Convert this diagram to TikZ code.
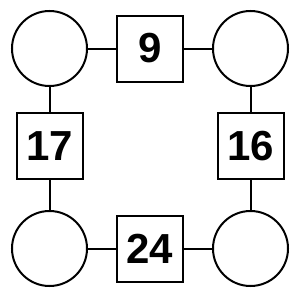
\documentclass[tikz,border=0pt]{standalone}
\usepackage{fontspec}
\setmainfont{Liberation Sans}
\begin{document}
\begin{tikzpicture}[x=1pt,y=-1pt,
  circ/.style={draw,line width=2pt,circle,minimum size=75pt,inner sep=0pt},
  sq/.style={draw,line width=2pt,rectangle,minimum size=66pt,inner sep=0pt,font=\fontsize{42}{42}\selectfont\bfseries},
  conn/.style={line width=2pt}]
\useasboundingbox (0,0) rectangle (300,300);
\node[circ] (c1) at (49.5,48.5) {};
\node[circ] (c2) at (250.5,48.5) {};
\node[circ] (c3) at (49.5,248.5) {};
\node[circ] (c4) at (250.5,248.5) {};
\node[sq] (s1) at (150,48.5) {9};
\node[sq] (s2) at (49.5,146) {17};
\node[sq] (s3) at (250.5,146) {16};
\node[sq] (s4) at (150,248.5) {24};
\draw[conn] (c1) -- (s1);
\draw[conn] (s1) -- (c2);
\draw[conn] (c1) -- (s2);
\draw[conn] (s2) -- (c3);
\draw[conn] (c2) -- (s3);
\draw[conn] (s3) -- (c4);
\draw[conn] (c3) -- (s4);
\draw[conn] (s4) -- (c4);
\end{tikzpicture}
\end{document}
